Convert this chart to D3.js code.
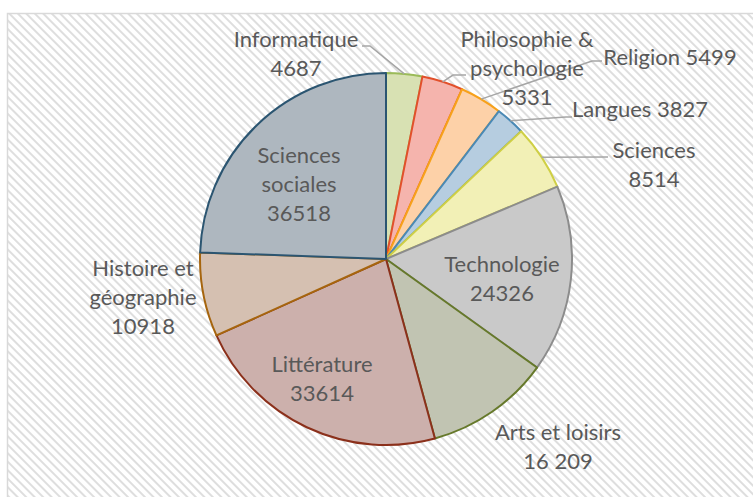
<!DOCTYPE html>
<html>
<head>
<meta charset="utf-8">
<style>
body { margin: 0; background: #fff; }
svg { display: block; font-family: Lato, "Open Sans", sans-serif; }
</style>
</head>
<body>
<div id="chart"></div>
<script src="https://cdn.jsdelivr.net/npm/d3@7/dist/d3.min.js"></script>
<script>
// data, clockwise from 12 o'clock
const categories = ["Informatique", "Philosophie & psychologie", "Religion", "Langues", "Sciences",
    "Technologie", "Arts et loisirs", "Littérature", "Histoire et géographie", "Sciences sociales"];
const values = [4687, 5331, 5499, 3827, 8514, 24326, 16209, 33614, 10918, 36518];
const valueLabels = ["4687", "5331", "5499", "3827", "8514", "24326", "16 209", "33614", "10918", "36518"];

const fills = ["#d8e1b3", "#f5b4ad", "#fdd1a8", "#b6cde0", "#f2f0b6",
    "#c9c9c9", "#c1c4b2", "#ccb0ac", "#d5c0b1", "#aeb7bf"];
const strokes = ["#9bbb59", "#e2502b", "#f7a11a", "#4a89b5", "#cfcf45",
    "#8c8c8c", "#66792b", "#8b301b", "#a6650e", "#2b5571"];

// label placement (x = centre, y = first baseline), how the category wraps, leader bends
const layout = [
    {x: 296, y: 47, lines: ["Informatique"], leader: [[370, 46], [362, 46]]},
    {x: 527, y: 47, lines: ["Philosophie &", "psychologie"], leader: [[453, 75], [466, 75]]},
    {x: 670, y: 65, lines: [], inline: true, leader: [[592, 61], [602, 61]]},
    {x: 640, y: 117, lines: [], inline: true, leader: [[566, 117], [572, 117]]},
    {x: 654, y: 158, lines: ["Sciences"], leader: [[608, 157]]},
    {x: 502, y: 272, lines: ["Technologie"]},
    {x: 558, y: 440, lines: ["Arts et loisirs"]},
    {x: 322, y: 372, lines: ["Littérature"]},
    {x: 143, y: 276, lines: ["Histoire et", "géographie"]},
    {x: 299, y: 163, lines: ["Sciences", "sociales"]}
];

const width = 753, height = 497;
const cx = 386, cy = 259, radius = 186;
const lineGap = 29;

const svg = d3.select('#chart').append('svg')
    .attr('width', width)
    .attr('height', height);

const defs = svg.append('defs');
const pat = defs.append('pattern')
    .attr('id', 'hatch')
    .attr('width', 6).attr('height', 6)
    .attr('patternUnits', 'userSpaceOnUse')
    .attr('patternTransform', 'rotate(-45)');
pat.append('rect').attr('width', 6).attr('height', 6).attr('fill', '#fff');
pat.append('line')
    .attr('x1', 3).attr('y1', 0).attr('x2', 3).attr('y2', 6)
    .attr('stroke', '#dedede').attr('stroke-width', 2);

// chart area
svg.append('rect')
    .attr('x', 7.5).attr('y', 13.5)
    .attr('width', 760).attr('height', 500)
    .attr('fill', 'url(#hatch)')
    .attr('stroke', '#d9d9d9')
    .attr('stroke-width', 1.5);

const pie = d3.pie().sort(null).value(d => d);
const arcs = pie(values);

const arc = d3.arc().innerRadius(0).outerRadius(radius);
const edge = d3.arc().innerRadius(radius).outerRadius(radius);

const g = svg.append('g').attr('transform', `translate(${cx},${cy})`);

g.selectAll('path.slice')
    .data(arcs)
    .enter().append('path')
    .attr('class', 'slice')
    .attr('d', arc)
    .attr('fill', (d, i) => fills[i])
    .attr('stroke', (d, i) => strokes[i])
    .attr('stroke-width', 2)
    .attr('stroke-linejoin', 'round');

// leader lines from the slice edge to the label
const line = d3.line();
arcs.forEach((d, i) => {
    const L = layout[i];
    if (!L.leader) return;
    const p0 = edge.centroid(d);
    const pts = [[p0[0] + cx, p0[1] + cy]].concat(L.leader);
    svg.append('path')
        .attr('d', line(pts))
        .attr('fill', 'none')
        .attr('stroke', '#a6a6a6')
        .attr('stroke-width', 1.5);
});

// labels
arcs.forEach((d, i) => {
    const L = layout[i];
    const rows = L.inline ? [categories[i] + ' ' + valueLabels[i]] : L.lines.concat([valueLabels[i]]);
    const t = svg.append('text')
        .attr('x', L.x)
        .attr('y', L.y)
        .attr('text-anchor', 'middle')
        .attr('fill', '#595959')
        .style('font-size', '22px');
    rows.forEach((r, k) => {
        t.append('tspan')
            .attr('x', L.x)
            .attr('y', L.y + k * lineGap)
            .text(r);
    });
});
</script>
</body>
</html>
